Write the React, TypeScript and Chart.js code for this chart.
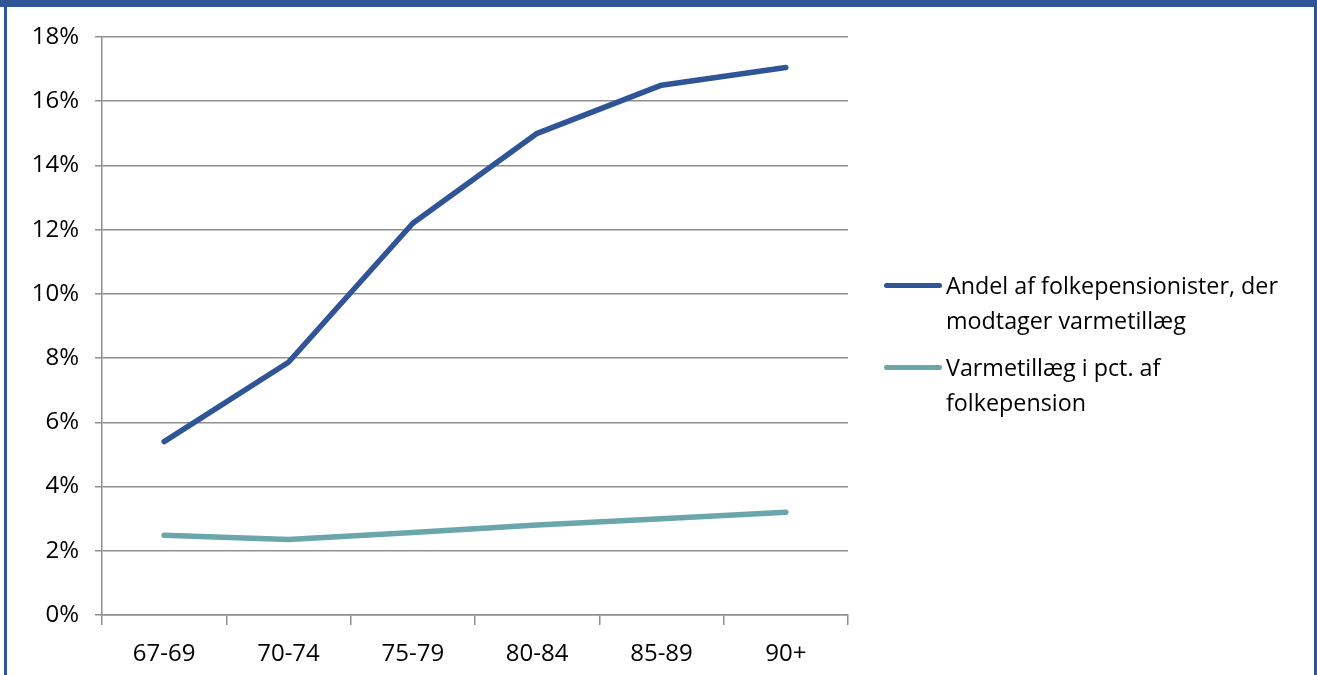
import React, { useEffect, useRef } from "react";
import { Chart, registerables } from "chart.js";

Chart.register(...registerables);

const categories = ["67-69", "70-74", "75-79", "80-84", "85-89", "90+"];
const andelValues = [5.4, 7.87, 12.2, 15.0, 16.5, 17.05];
const varmeValues = [2.48, 2.35, 2.57, 2.8, 3.0, 3.2];
const seriesLabels = [
  ["Andel af folkepensionister, der", "modtager varmetillæg"],
  ["Varmetillæg i pct. af", "folkepension"],
];
const yMax = 18;
const yStep = 2;

const BLUE = "#2F5597";
const TEAL = "#6BA6AC";
const GRID = "#8e8e8e";
const FONT = "'Open Sans', 'Noto Sans', sans-serif";

export default function App() {
  const ref = useRef<HTMLCanvasElement | null>(null);

  useEffect(() => {
    const canvas = ref.current;
    if (!canvas) return;
    const chart = new Chart(canvas, {
      type: "line",
      data: {
        labels: categories,
        datasets: [
          {
            label: seriesLabels[0].join(" "),
            data: andelValues,
            borderColor: BLUE,
            backgroundColor: BLUE,
            borderWidth: 5.5,
            borderCapStyle: "round",
            borderJoinStyle: "round",
            pointRadius: 0,
            tension: 0,
          },
          {
            label: seriesLabels[1].join(" "),
            data: varmeValues,
            borderColor: TEAL,
            backgroundColor: TEAL,
            borderWidth: 5.5,
            borderCapStyle: "round",
            borderJoinStyle: "round",
            pointRadius: 0,
            tension: 0,
          },
        ],
      },
      options: {
        animation: false,
        responsive: false,
        maintainAspectRatio: false,
        layout: { padding: { left: 0, right: 469, top: 37, bottom: 0 } },
        plugins: { legend: { display: false }, tooltip: { enabled: false }, title: { display: false } },
        scales: {
          x: {
            type: "category",
            offset: true,
            grid: {
              offset: true,
              drawOnChartArea: false,
              drawTicks: true,
              tickLength: 10,
              color: GRID,
              lineWidth: 1.5,
            },
            border: { display: true, color: GRID, width: 1.5 },
            ticks: { color: "#000", font: { family: FONT, size: 24 }, padding: 15, maxRotation: 0 },
            afterFit: (s: any) => {
              s.height = 60;
            },
          },
          y: {
            min: 0,
            max: yMax,
            ticks: {
              stepSize: yStep,
              color: "#000",
              font: { family: FONT, size: 24 },
              padding: 16,
              callback: (v: any) => `${v}%`,
            },
            grid: { color: GRID, lineWidth: 1.5, tickLength: 7, drawTicks: true },
            border: { display: true, color: GRID, width: 1.5 },
            afterFit: (s: any) => {
              s.width = 102;
            },
          },
        },
      },
    });
    return () => chart.destroy();
  }, []);

  const legendItem = (color: string, lines: string[], top: number) => (
    <div style={{ position: "absolute", left: 884, top, display: "flex", alignItems: "flex-start" }}>
      <div
        style={{
          width: 58,
          height: 5,
          borderRadius: 3,
          background: color,
          marginTop: 15,
          marginRight: 4,
        }}
      />
      <div style={{ fontFamily: FONT, fontSize: 23.3, lineHeight: "35px", color: "#000" }}>
        {lines.map((l, i) => (
          <div key={i} style={{ whiteSpace: "nowrap" }}>{l}</div>
        ))}
      </div>
    </div>
  );

  return (
    <div style={{ position: "absolute", left: 0, top: 0, width: 1317, height: 675, background: "#fff", overflow: "hidden" }}>
      <canvas ref={ref} width={1317} height={675} style={{ position: "absolute", left: 0, top: 0, width: 1317, height: 675 }} />
      <div style={{ position: "absolute", left: 0, top: 0, width: 1317, height: 7, background: BLUE }} />
      <div style={{ position: "absolute", left: 4, top: 0, width: 3, height: 675, background: BLUE }} />
      <div style={{ position: "absolute", left: 1314, top: 0, width: 3, height: 675, background: BLUE }} />
      {legendItem(BLUE, seriesLabels[0], 268)}
      {legendItem(TEAL, seriesLabels[1], 350)}
    </div>
  );
}
